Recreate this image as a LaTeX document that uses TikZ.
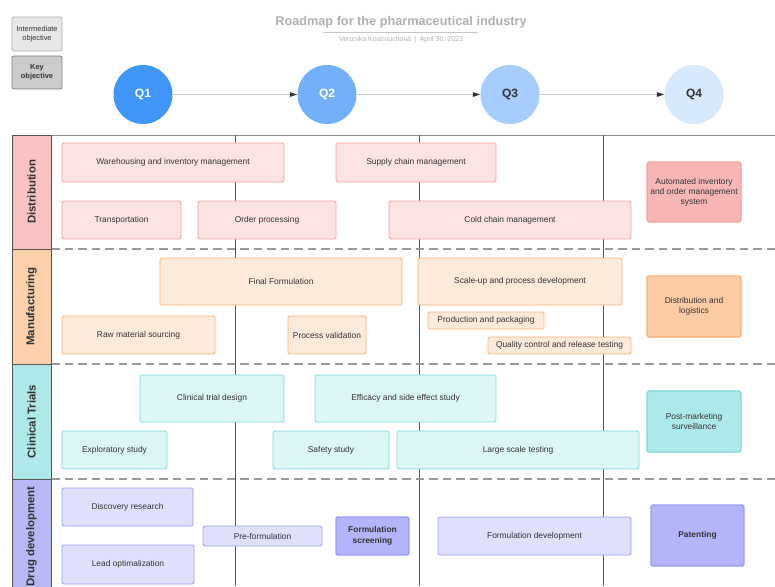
\documentclass[tikz,border=0pt]{standalone}
\usepackage{fontspec}
\setmainfont{Liberation Sans}
\usetikzlibrary{arrows.meta}

% palette
\definecolor{textc}{HTML}{333333}
\definecolor{titlec}{HTML}{B0B0B0}
\definecolor{gridc}{HTML}{555555}
\definecolor{dashc}{HTML}{9A9A9A}
\definecolor{qa}{HTML}{4097F9}
\definecolor{qb}{HTML}{72B0FA}
\definecolor{qc}{HTML}{A6CDFB}
\definecolor{qd}{HTML}{D8E8FD}
\definecolor{distH}{HTML}{F9C2C2}
\definecolor{distL}{HTML}{FDE4E4}
\definecolor{distK}{HTML}{F8B6B6}
\definecolor{distB}{HTML}{F6A0A0}
\definecolor{manH}{HTML}{FDD0AC}
\definecolor{manL}{HTML}{FEEADB}
\definecolor{manK}{HTML}{FDCBA4}
\definecolor{manB}{HTML}{F9B27A}
\definecolor{clinH}{HTML}{AEE8E8}
\definecolor{clinL}{HTML}{DCF5F5}
\definecolor{clinK}{HTML}{AEE9E9}
\definecolor{clinB}{HTML}{7FDADA}
\definecolor{drugH}{HTML}{B8B8F4}
\definecolor{drugL}{HTML}{E0E0FD}
\definecolor{drugK}{HTML}{B4B4FB}
\definecolor{drugB}{HTML}{9C9CF5}

\tikzset{
  dims/.style 2 args={minimum width=#1, minimum height=#2},
  box/.style={draw, rounded corners=1.5pt, line width=0.9pt, inner sep=0pt,
    outer sep=0pt, align=center, text=textc, font=\fontsize{8.4}{10}\selectfont},
  dist/.style={box, fill=distL, draw=distB},
  distkey/.style={box, fill=distK, draw=distB, line width=1.1pt},
  man/.style={box, fill=manL, draw=manB},
  mankey/.style={box, fill=manK, draw=manB, line width=1.1pt},
  clin/.style={box, fill=clinL, draw=clinB},
  clinkey/.style={box, fill=clinK, draw=clinB, line width=1.1pt},
  drug/.style={box, fill=drugL, draw=drugB},
  drugkey/.style={box, fill=drugK, draw=drugB, line width=1.1pt,
    font=\bfseries\fontsize{8.4}{10.5}\selectfont},
  legend/.style={draw, rounded corners=2pt, line width=0.8pt, inner sep=0pt,
    align=center, text=textc, font=\fontsize{7.4}{9}\selectfont},
  lanehead/.style={draw=gridc, line width=0.8pt, rotate=90, inner sep=0pt,
    minimum height=39, text=textc, font=\bfseries\fontsize{11.4}{13}\selectfont},
  quarter/.style={circle, inner sep=0pt, minimum size=59,
    font=\bfseries\fontsize{12}{14}\selectfont},
  qarrow/.style={draw=black!22, line width=1.1pt,
    -{Triangle[length=7.5pt, width=4.5pt, color=textc]}},
  vline/.style={draw=gridc, line width=0.8pt},
  laneline/.style={draw=dashc, line width=1.3pt, dash pattern=on 8.5pt off 5pt},
}

\begin{document}
\begin{tikzpicture}[x=1pt, y=-1pt]
\useasboundingbox (0,0) rectangle (775,586);
\clip (0,0) rectangle (775,586);
\fill[white] (0,0) rectangle (775,586);

% legend
\node[legend, fill=black!9, draw=black!30, dims={50}{34}] (lgint) at (37,34)
  {Intermediate\\objective};
\node[legend, fill=black!20, draw=black!50, dims={50}{33},
  font=\bfseries\fontsize{7.4}{9}\selectfont] (lgkey) at (37,72.5) {Key\\objective};

% title block
\node[text=titlec, font=\bfseries\fontsize{12.7}{14}\selectfont] (title) at (401,22)
  {Roadmap for the pharmaceutical industry};
\coordinate (ulA) at (323,32.3);
\coordinate (ulB) at (478,32.3);
\draw[draw=black!22, line width=1.3pt] (ulA) -- (ulB);
\node[text=titlec, font=\fontsize{7}{8}\selectfont] (subtitle) at (401,39.5)
  {Veronika Kostrouchová\enspace|\enspace April 30, 2023};

% quarters
\node[quarter, fill=qa, text=white] (q1) at (143,94.5) {Q1};
\node[quarter, fill=qb, text=white] (q2) at (327,94.5) {Q2};
\node[quarter, fill=qc, text=textc] (q3) at (510,94.5) {Q3};
\node[quarter, fill=qd, text=textc] (q4) at (694,94.5) {Q4};
\draw[qarrow] (q1) -- (q2);
\draw[qarrow] (q2) -- (q3);
\draw[qarrow] (q3) -- (q4);

% table frame and quarter separators
\draw[draw=black!45, line width=0.9pt] (12,135) -- (775,135);
\draw[vline] (51,135) -- (51,586);
\draw[vline] (235,135) -- (235,586);
\draw[vline] (419,135) -- (419,586);
\draw[vline] (603,135) -- (603,586);
\draw[laneline] (51,249) -- (775,249);
\draw[laneline] (51,364) -- (775,364);
\draw[laneline] (51,479) -- (775,479);

% lane headers
\node[lanehead, fill=distH, minimum width=114] (hdist) at (31.5,192) {Distribution};
\node[lanehead, fill=manH, minimum width=115] (hman) at (31.5,306.5) {Manufacturing};
\node[lanehead, fill=clinH, minimum width=115] (hclin) at (31.5,421.5) {Clinical Trials};
\node[lanehead, fill=drugH, minimum width=115] (hdrug) at (31.5,536.5) {Drug development};

% distribution
\node[dist, dims={222}{39}] (wh) at (173,162.5) {Warehousing and inventory management};
\node[dist, dims={160}{39}] (sc) at (416,162.5) {Supply chain management};
\node[dist, dims={119}{38}] (tr) at (121.5,220) {Transportation};
\node[dist, dims={138}{38}] (op) at (267,220) {Order processing};
\node[dist, dims={242}{38}] (cc) at (510,220) {Cold chain management};
\node[distkey, dims={94}{60}] (ai) at (694,192)
  {Automated inventory\\and order management\\system};

% manufacturing
\node[man, dims={242}{47}] (ff) at (281,281.5) {Final Formulation};
\node[man, dims={153}{38}] (rm) at (138.5,335) {Raw material sourcing};
\node[man, dims={78}{38}] (pv) at (327,335) {Process validation};
\node[man, dims={204}{47}] (su) at (520,281.5) {Scale-up and process development};
\node[man, dims={116}{17}] (pp) at (486,320.5) {Production and packaging};
\node[man, dims={143}{17}] (qcr) at (559.5,345.5) {Quality control and release testing};
\node[mankey, dims={94}{61}] (dl) at (694,306.5) {Distribution and\\logistics};

% clinical trials
\node[clin, dims={144}{47}] (ctd) at (212,398.5) {Clinical trial design};
\node[clin, dims={181}{47}] (ef) at (405.5,398.5) {Efficacy and side effect study};
\node[clin, dims={105}{38}] (ex) at (114.5,450) {Exploratory study};
\node[clin, dims={116}{38}] (ss) at (331,450) {Safety study};
\node[clin, dims={242}{38}] (ls) at (518,450) {Large scale testing};
\node[clinkey, dims={94}{61}] (pm) at (694,421.5) {Post-marketing\\surveillance};

% drug development
\node[drug, dims={131}{38}] (dr) at (127.5,507) {Discovery research};
\node[drug, dims={132}{39}] (lo) at (128,564.5) {Lead optimalization};
\node[drug, dims={119}{20}] (pf) at (262.5,536) {Pre-formulation};
\node[drugkey, dims={73}{38}] (fs) at (372.5,536) {Formulation\\screening};
\node[drug, dims={193}{38}] (fd) at (534.5,536) {Formulation development};
\node[drugkey, dims={93}{61}] (pa) at (697.5,535.5) {Patenting};
\end{tikzpicture}
\end{document}
